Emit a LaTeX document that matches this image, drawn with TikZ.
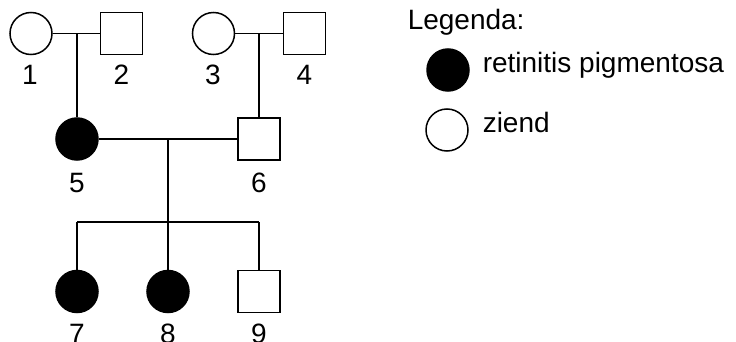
\documentclass[tikz,border=0pt]{standalone}
\usepackage{fontspec}
\setmainfont{Liberation Sans}
\usetikzlibrary{calc}
\begin{document}
\begin{tikzpicture}[x=1pt,y=1pt,
  line width=1.5pt,
  female/.style={circle,draw,inner sep=0pt,minimum size=42pt,fill=white},
  male/.style={rectangle,draw,inner sep=0pt,minimum size=42pt,fill=white},
  affected/.style={fill=black},
  lab/.style={anchor=base,inner sep=0pt,font=\fontsize{28}{34}\selectfont},
  legtext/.style={anchor=mid west,inner sep=0pt,font=\fontsize{28}{34}\selectfont}]
\useasboundingbox (0,0) rectangle (736,-342);
% generation I
\node[female] (c1) at (31,-33.5) {};
\node[male] (s2) at (121.5,-33.5) {};
\node[female] (c3) at (213.5,-33.5) {};
\node[male] (s4) at (304.5,-33.5) {};
% generation II
\node[female,affected] (c5) at (77,-139) {};
\node[male] (s6) at (259,-139) {};
% generation III
\node[female,affected] (c7) at (77,-291.5) {};
\node[female,affected] (c8) at (168,-291.5) {};
\node[male] (s9) at (259,-291.5) {};
% labels
\node[lab] (l1) at (30,-85) {1};
\node[lab] (l2) at (121.5,-85) {2};
\node[lab] (l3) at (213,-85) {3};
\node[lab] (l4) at (304.5,-85) {4};
\node[lab] (l5) at (77,-192) {5};
\node[lab] (l6) at (259,-192) {6};
\node[lab] (l7) at (77,-343) {7};
\node[lab] (l8) at (168,-343) {8};
\node[lab] (l9) at (259,-343) {9};
% connectors
\coordinate (m12) at (77,-33.5);
\coordinate (m34) at (259,-33.5);
\coordinate (m56) at (168,-139);
\coordinate (sL) at (77,-222);
\coordinate (sR) at (259,-222);
\draw (c1) -- (s2);
\draw (c3) -- (s4);
\draw (m12) -- (c5);
\draw (m34) -- (s6);
\draw (c5) -- (s6);
\draw (m56) -- (c8);
\draw (sL) -- (sR);
\draw (sL) -- (c7);
\draw (sR) -- (s9);
% legend
\node[anchor=base west,inner sep=0pt,font=\fontsize{28}{34}\selectfont] (leg) at (407,-30) {Legenda:};
\node[female,affected] (lc1) at (448,-70) {};
\node[female] (lc2) at (447,-130) {};
\node[legtext] (lt1) at (482,-70) {retinitis pigmentosa};
\node[legtext] (lt2) at (482,-130) {ziend};
\end{tikzpicture}
\end{document}
